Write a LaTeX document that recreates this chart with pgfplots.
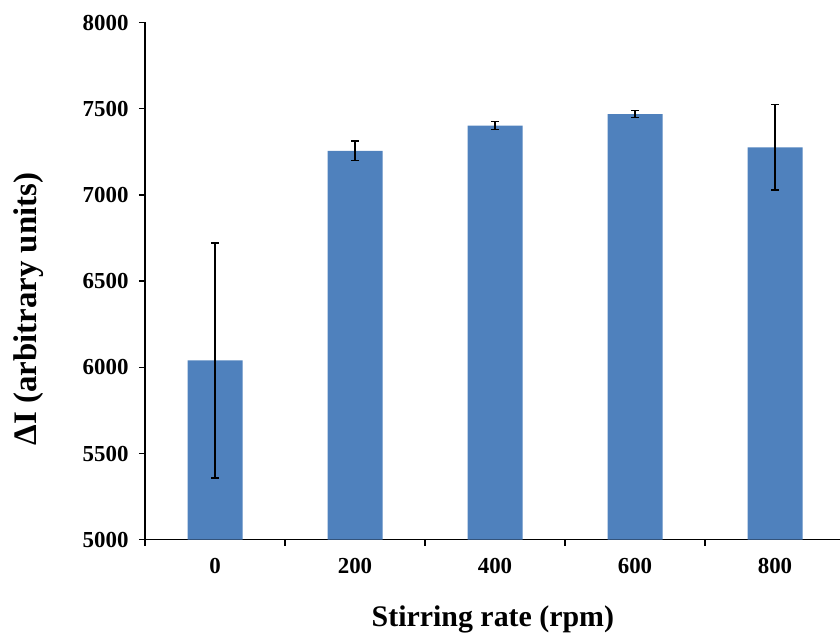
\documentclass[border=0pt]{standalone}
\usepackage{fontspec}
\setmainfont{Liberation Serif}
\usepackage{pgfplots}
\pgfplotsset{compat=1.18}
\definecolor{barblue}{HTML}{4F81BD}

\begin{document}
\begin{tikzpicture}
\begin{axis}[
  scale only axis,
  width=700bp, height=517.2bp,
  at={(145bp,93.3bp)}, anchor=south west,
  xmin=-0.5, xmax=4.5,
  ymin=5000, ymax=8000,
  ytick={5000,5500,...,8000},
  scaled y ticks=false,
  /pgf/number format/set thousands separator={},
  /pgf/number format/assume math mode=true,
  xtick={0,1,2,3,4},
  xticklabels={0,200,400,600,800},
  minor xtick={-0.5,0.5,1.5,2.5,3.5,4.5},
  axis x line=bottom, axis y line=left,
  axis line style={-, line width=1.5bp, black},
  tick align=outside,
  major tick length=6bp, minor tick length=6bp,
  major x tick style={draw=none},
  every tick/.style={line width=1.5bp, black},
  tick label style={font=\fontsize{23}{23}\selectfont\bfseries},
  yticklabel style={xshift=-7bp},
  xticklabel style={yshift=-9bp},
  xlabel={Stirring rate (rpm)},
  ylabel={ΔI (arbitrary units)},
  xlabel style={font=\fontsize{30}{30}\selectfont\bfseries,
                at={(axis description cs:0.497,-0.1669)}, anchor=base},
  ylabel style={font=\fontsize{33}{33}\selectfont\bfseries,
                at={(axis description cs:-0.1543,0.446)}, anchor=base},
  ybar, bar width=55bp,
]
\addplot[fill=barblue, draw=none,
  error bars/.cd, y dir=both, y explicit,
  error bar style={line width=1.4bp, black},
  error mark options={line width=1.4bp, black, mark size=4bp, rotate=90}]
  coordinates {
  (0,6040) +- (0,681)
  (1,7255) +- (0,57)
  (2,7402) +- (0,24)
  (3,7468) +- (0,20)
  (4,7276) +- (0,248)
};
\end{axis}
\pgfresetboundingbox
\path[use as bounding box] (0,0) rectangle (840bp,633bp);
\end{tikzpicture}
\end{document}
